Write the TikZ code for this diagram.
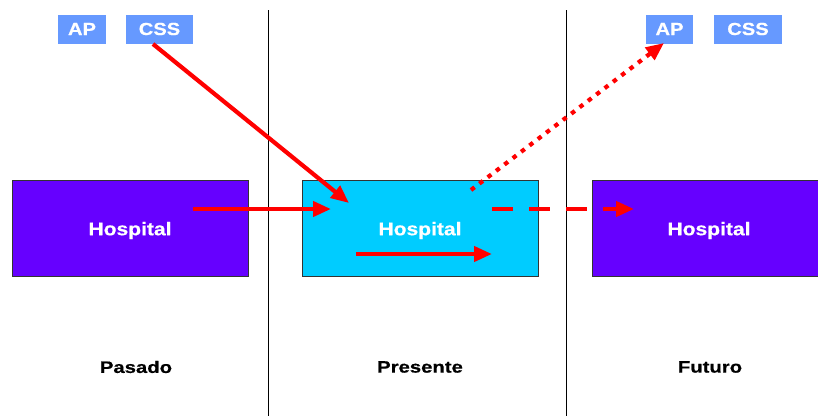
\documentclass[tikz,border=0pt]{standalone}
\usepackage{fontspec}
\setmainfont{Liberation Sans}
\newfontfamily\hospfont[FakeStretch=1.15,FakeBold=0.6]{Liberation Sans}
\newfontfamily\erafont[FakeStretch=1.23,FakeBold=0.6]{Liberation Sans}
\newfontfamily\tagfont[FakeStretch=1.15,FakeBold=0.6]{Liberation Sans}
\usetikzlibrary{arrows.meta}
\definecolor{purp}{HTML}{6600FF}
\definecolor{cyanb}{HTML}{00CCFF}
\definecolor{lblue}{HTML}{6699FF}
\definecolor{arr}{HTML}{FF0000}
\tikzset{
  hosp/.style={draw=black!80, line width=0.8pt, minimum width=236pt, minimum height=96pt, inner sep=0pt},
  hosptext/.style={text=white, font=\hospfont\fontsize{18.3}{22}\selectfont\bfseries},
  tag/.style={fill=lblue, inner sep=0pt, minimum height=29pt, text=white, font=\tagfont\fontsize{17.5}{20}\selectfont\bfseries},
  era/.style={font=\erafont\fontsize{16.5}{19}\selectfont\bfseries, text=black},
  redarrow/.style={draw=arr, line width=4.2pt, -{Triangle[length=18pt,width=15pt]}},
  divider/.style={draw=black, line width=0.7pt},
}
\begin{document}
\begin{tikzpicture}[x=1pt,y=-1pt]
\useasboundingbox (0,0) rectangle (818,416);
% dividers
\coordinate (d1t) at (268,10); \coordinate (d1b) at (268,416);
\coordinate (d2t) at (566,10); \coordinate (d2b) at (566,416);
\draw[divider] (d1t) -- (d1b);
\draw[divider] (d2t) -- (d2b);
% boxes
\node[hosp, fill=purp] (past) at (130,228) {};
\node[hosp, fill=cyanb] (pres) at (420,228) {};
\node[hosp, fill=purp, minimum width=226pt] (fut) at (705,228) {};
\node[hosptext] (pastt) at (130,230.5) {Hospital};
\node[hosptext] (prest) at (420,230.5) {Hospital};
\node[hosptext] (futt) at (709,230.5) {Hospital};
% tags
\node[tag, minimum width=48pt] (ap1) at (82,29) {AP};
\node[tag, minimum width=67pt] (css1) at (159.5,29) {CSS};
\node[tag, minimum width=47pt] (ap2) at (669.5,29) {AP};
\node[tag, minimum width=68pt] (css2) at (748,29) {CSS};
% eras
\node[era] (e1) at (136,367) {Pasado};
\node[era] (e2) at (420,367) {Presente};
\node[era] (e3) at (710,367) {Futuro};
% arrows
\coordinate (a1s) at (153,44); \coordinate (a1e) at (349,203);
\draw[redarrow] (a1s) -- (a1e);
\coordinate (a2s) at (193,209); \coordinate (a2e) at (331,209);
\draw[redarrow] (a2s) -- (a2e);
\coordinate (a3s) at (356,254); \coordinate (a3e) at (492,254);
\draw[redarrow] (a3s) -- (a3e);
\coordinate (a4s) at (492,209); \coordinate (a4e) at (634,209);
\draw[redarrow, dash pattern=on 21pt off 16pt] (a4s) -- (a4e);
\coordinate (a5s) at (471,190); \coordinate (a5e) at (664,43);
\draw[redarrow, dash pattern=on 4.5pt off 6pt] (a5s) -- (a5e);
\end{tikzpicture}
\end{document}
